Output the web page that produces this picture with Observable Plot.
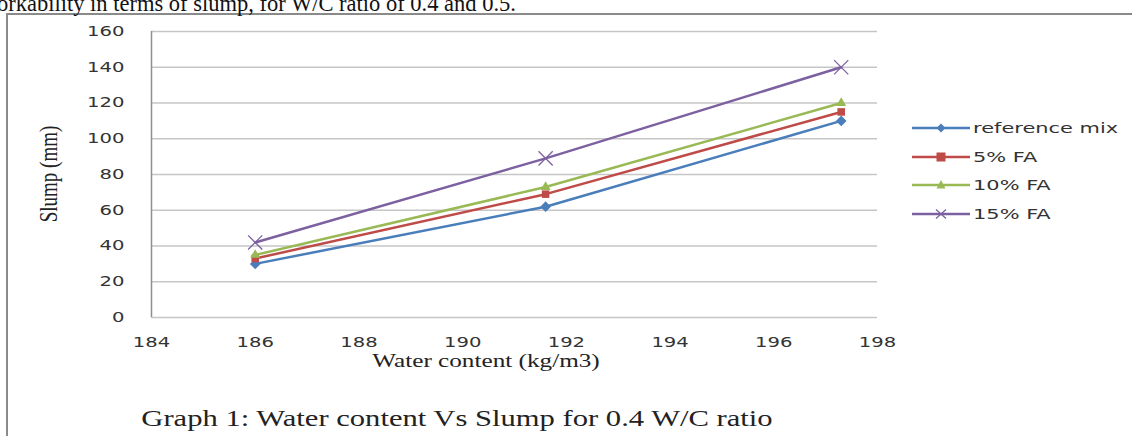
<!DOCTYPE html>
<html>
<head>
<meta charset="utf-8">
<script src="https://cdn.jsdelivr.net/npm/d3@7"></script>
<script src="https://cdn.jsdelivr.net/npm/@observablehq/plot@0.6"></script>
<style>
  body { margin: 0; background: #fff; }
  #wrap { position: relative; width: 1132px; height: 436px; overflow: hidden; background: #fff; }
  #wrap > svg { position: absolute; left: 0; top: 0; }
  .ov { position: absolute; white-space: nowrap; line-height: 1; }
  .serif { font-family: "Liberation Serif", "Times New Roman", serif; color: #222; }
  .frameL { position: absolute; left: 6px; top: 13px; width: 2px; height: 430px; background: #8a8a8a; }
  .frameT { position: absolute; left: 6px; top: 13px; width: 1130px; height: 2px; background: #8a8a8a; }
  .leg { position: absolute; left: 912px; top: 0; font-family: "DejaVu Sans", sans-serif; font-size: 13.5px; color: #333; }
  .legrow { position: absolute; left: 0; height: 16px; white-space: nowrap; }
  .legrow svg { position: absolute; left: 0; top: 0; }
  .legrow span { position: absolute; left: 61px; top: 0; line-height: 16px; display: inline-block; transform-origin: left center; transform: scaleX(1.55); }
</style>
</head>
<body>
<div id="wrap"></div>
<script>
// ---- data ----
const waterContent = [186, 191.6, 197.3];
const series = ["reference mix", "5% FA", "10% FA", "15% FA"];
const slumpRef = [30, 62, 110];
const slump5FA = [33, 69, 115];
const slump10FA = [35, 73, 120];
const slump15FA = [42, 89, 140];
const xTicks = [184, 186, 188, 190, 192, 194, 196, 198];
const yTicks = [0, 20, 40, 60, 80, 100, 120, 140, 160];
const lineColors = ["#4A7EBB", "#BE4B48", "#98B954", "#7D60A0"];
const symbols = ["diamond2", "square2", "triangle2", "times"];

(function () {
const slumpSeries = [slumpRef, slump5FA, slump10FA, slump15FA];
const rows = [];
series.forEach((s, i) => waterContent.forEach((w, j) => rows.push({series: s, water: w, slump: slumpSeries[i][j]})));

const wrap = document.getElementById("wrap");

const chart = Plot.plot({
  width: 1132,
  height: 436,
  marginLeft: 151,
  marginRight: 255,
  marginTop: 31,
  marginBottom: 119,
  style: {background: "transparent", fontFamily: "'DejaVu Sans', sans-serif", fontSize: "14px", color: "#333", overflow: "visible"},
  x: {domain: [184, 198]},
  y: {domain: [0, 160]},
  color: {domain: series, range: lineColors},
  symbol: {domain: series, range: symbols},
  marks: [
    Plot.gridY(yTicks, {stroke: "#c6c6c6", strokeOpacity: 1, strokeWidth: 1.5}),
    Plot.ruleX([184], {stroke: "#8f8f8f", strokeWidth: 1.5}),
    Plot.axisY(yTicks, {tickSize: 0, tickPadding: 27, label: null, fill: "#333"}),
    Plot.axisX(xTicks, {tickSize: 0, tickPadding: 20, label: null, fill: "#333"}),
    Plot.line(rows, {x: "water", y: "slump", z: "series", stroke: "series", strokeWidth: 2.5}),
    Plot.dot(rows.filter(d => d.series !== series[3]), {x: "water", y: "slump", symbol: "series", fill: "series", r: 4.8}),
    Plot.dot(rows.filter(d => d.series === series[3]), {x: "water", y: "slump", symbol: "series", stroke: "series", strokeWidth: 1.3, r: 6.5})
  ]
});
wrap.appendChild(chart);

// horizontally stretch tick labels like the reference
d3.select(chart).selectAll('g[aria-label$="tick label"] text').each(function () {
  const t = this.getAttribute("transform");
  if (t) this.setAttribute("transform", t + " scale(1.4,1)");
});

// frame
const fl = document.createElement("div"); fl.className = "frameL"; wrap.appendChild(fl);
const ft = document.createElement("div"); ft.className = "frameT"; wrap.appendChild(ft);

// top running text
const topText = document.createElement("div");
topText.className = "ov serif";
topText.style.cssText = "left:-3px;top:-7px;font-size:22.5px;color:#111;";
topText.textContent = "orkability in terms of slump, for W/C ratio of 0.4 and 0.5.";
wrap.appendChild(topText);

// y axis title
const yt = document.createElement("div");
yt.className = "ov serif";
yt.style.cssText = "left:48px;top:174px;font-size:19px;transform:translate(-50%,-50%) rotate(-90deg) scaleY(1.35);";
yt.textContent = "Slump (mm)";
wrap.appendChild(yt);

// x axis title
const xt = document.createElement("div");
xt.className = "ov serif";
xt.style.cssText = "left:486px;top:361px;font-size:18px;transform:translate(-50%,-50%) scaleX(1.4);";
xt.textContent = "Water content (kg/m3)";
wrap.appendChild(xt);

// caption
const cap = document.createElement("div");
cap.className = "ov serif";
cap.style.cssText = "left:457px;top:418px;font-size:23px;transform:translate(-50%,-50%) scaleX(1.33);";
cap.textContent = "Graph 1: Water content Vs Slump for 0.4 W/C ratio";
wrap.appendChild(cap);

// legend
const leg = document.createElement("div");
leg.className = "leg";
const rowCenters = [128, 157, 185, 214];
series.forEach((s, i) => {
  const row = document.createElement("div");
  row.className = "legrow";
  row.style.top = (rowCenters[i] - 8) + "px";
  const c = lineColors[i];
  let marker = "";
  if (i === 0) marker = `<path d="M29,3.5 L33.5,8 L29,12.5 L24.5,8 Z" fill="${c}"/>`;
  if (i === 1) marker = `<rect x="24.5" y="3.5" width="9" height="9" fill="${c}"/>`;
  if (i === 2) marker = `<path d="M29,3 L33.5,11.5 L24.5,11.5 Z" fill="${c}"/>`;
  if (i === 3) marker = `<path d="M24,3.5 L34,12.5 M34,3.5 L24,12.5" stroke="${c}" stroke-width="1.3" fill="none"/>`;
  row.innerHTML = `<svg width="58" height="16"><line x1="0" x2="58" y1="8" y2="8" stroke="${c}" stroke-width="2.5"/>${marker}</svg><span>${s}</span>`;
  leg.appendChild(row);
});
wrap.appendChild(leg);
})();
</script>
</body>
</html>
